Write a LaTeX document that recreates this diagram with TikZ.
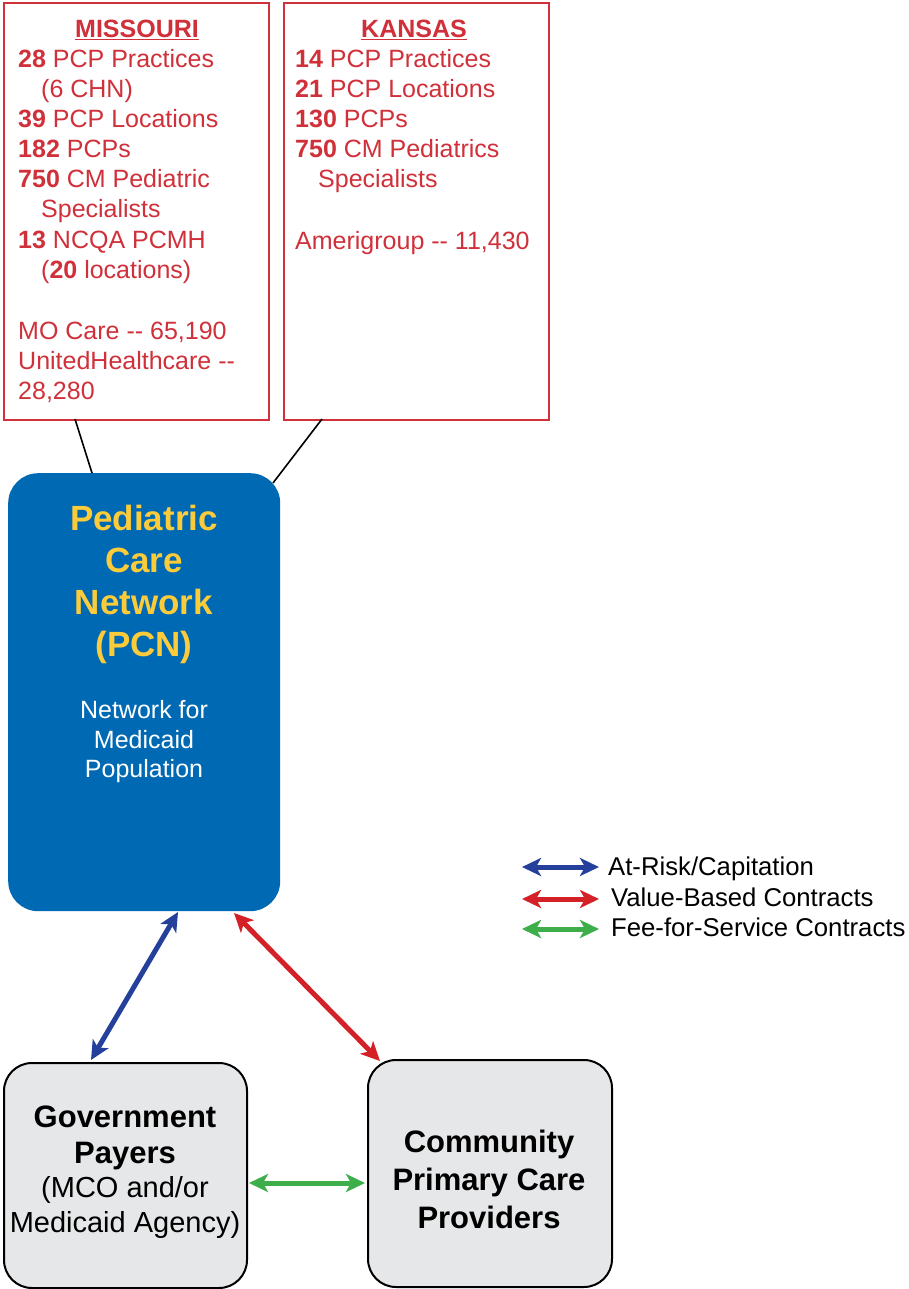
\documentclass[tikz,border=0pt]{standalone}
\usepackage{fontspec}
\setmainfont{Liberation Sans}
\usetikzlibrary{arrows.meta}
\definecolor{boxred}{HTML}{D0303A}
\definecolor{pcnblue}{HTML}{0069B4}
\definecolor{pcnyellow}{HTML}{FCCB3A}
\definecolor{arrblue}{HTML}{24409A}
\definecolor{arrred}{HTML}{D42128}
\definecolor{arrgreen}{HTML}{3DAE49}
\definecolor{boxgray}{HTML}{E6E7E8}
\tikzset{
  statebox/.style={draw=boxred, line width=2pt, anchor=north west, inner sep=0pt},
  rtxt/.style={text=boxred, inner sep=0pt, font=\fontsize{25}{30}\selectfont},
  ytxt/.style={text=pcnyellow, inner sep=0pt, anchor=base, font=\bfseries\fontsize{35}{42}\selectfont},
  wtxt/.style={text=white, inner sep=0pt, anchor=base, font=\fontsize{25}{30}\selectfont},
  btxt/.style={text=black, inner sep=0pt, anchor=base, font=\bfseries\fontsize{31}{37}\selectfont},
  ptxt/.style={text=black, inner sep=0pt, anchor=base, font=\fontsize{29}{34}\selectfont},
  ltxt/.style={text=black, inner sep=0pt, anchor=base west, font=\fontsize{25.7}{31}\selectfont},
  graybox/.style={draw=black, fill=boxgray, line width=2pt, rounded corners=28pt, anchor=north west, inner sep=0pt},
  conn/.style={line width=5pt, {Stealth[length=19pt,width=18pt,inset=5pt]}-{Stealth[length=19pt,width=18pt,inset=5pt]}},
  link/.style={draw=black, line width=1.6pt}
}
\begin{document}
\begin{tikzpicture}[x=1pt,y=-1pt]
\useasboundingbox (0,0) rectangle (909,1289);
\fill[white] (0,0) rectangle (909,1289);

% state boxes
\node[statebox, minimum width=265pt, minimum height=417pt] (mo) at (3,2) {};
\node[statebox, minimum width=265pt, minimum height=417pt] (ks) at (283,2) {};

% Missouri text
\node[rtxt, anchor=base] (mot) at (137,38) {\bfseries\underline{MISSOURI}};
\node[rtxt, anchor=base west] (m1) at (18,68) {\textbf{28} PCP Practices};
\node[rtxt, anchor=base west] (m2) at (41,98) {(6 CHN)};
\node[rtxt, anchor=base west] (m3) at (18,128) {\textbf{39} PCP Locations};
\node[rtxt, anchor=base west] (m4) at (18,158) {\textbf{182} PCPs};
\node[rtxt, anchor=base west] (m5) at (18,188) {\textbf{750} CM Pediatric};
\node[rtxt, anchor=base west] (m6) at (41,218) {Specialists};
\node[rtxt, anchor=base west] (m7) at (18,248) {\textbf{13} NCQA PCMH};
\node[rtxt, anchor=base west] (m8) at (41,278) {(\textbf{20} locations)};
\node[rtxt, anchor=base west] (m9) at (18,339) {MO Care -{}- 65,190};
\node[rtxt, anchor=base west] (m10) at (18,369) {UnitedHealthcare -{}-};
\node[rtxt, anchor=base west] (m11) at (18,399) {28,280};

% Kansas text
\node[rtxt, anchor=base] (kst) at (414,38) {\bfseries\underline{KANSAS}};
\node[rtxt, anchor=base west] (k1) at (295,68) {\textbf{14} PCP Practices};
\node[rtxt, anchor=base west] (k2) at (295,98) {\textbf{21} PCP Locations};
\node[rtxt, anchor=base west] (k3) at (295,128) {\textbf{130} PCPs};
\node[rtxt, anchor=base west] (k4) at (295,158) {\textbf{750} CM Pediatrics};
\node[rtxt, anchor=base west] (k5) at (318,188) {Specialists};
\node[rtxt, anchor=base west] (k6) at (295,249) {Amerigroup -{}- 11,430};

% PCN box
\node[fill=pcnblue, rounded corners=30pt, anchor=north west, minimum width=272pt, minimum height=438pt, inner sep=0pt] (pcn) at (8,473) {};
\node[ytxt] (p1) at (144,530) {Pediatric};
\node[ytxt] (p2) at (144,572) {Care};
\node[ytxt] (p3) at (144,614) {Network};
\node[ytxt] (p4) at (144,656) {(PCN)};
\node[wtxt] (p5) at (144,718) {Network for};
\node[wtxt] (p6) at (144,748) {Medicaid};
\node[wtxt] (p7) at (144,777) {Population};

% links from state boxes
\coordinate (moA) at (75,419);
\coordinate (moB) at (92,473);
\coordinate (ksA) at (322,419);
\coordinate (ksB) at (273,483);
\draw[link] (moA) -- (moB);
\draw[link] (ksA) -- (ksB);

% gray boxes
\node[graybox, minimum width=243pt, minimum height=225pt] (gov) at (3,1062) {};
\node[graybox, minimum width=244pt, minimum height=227pt] (cpc) at (367,1059) {};
\node[btxt] (g1) at (125,1127) {Government};
\node[btxt] (g2) at (125,1163) {Payers};
\node[ptxt] (g3) at (125,1197) {(MCO and/or};
\node[ptxt] (g4) at (125,1232) {Medicaid Agency)};
\node[btxt] (c1) at (489,1152) {Community};
\node[btxt] (c2) at (489,1190) {Primary Care};
\node[btxt] (c3) at (489,1228) {Providers};

% relationship arrows
\coordinate (bA) at (178,912);
\coordinate (bB) at (91,1060);
\coordinate (rA) at (234,913);
\coordinate (rB) at (380,1061);
\coordinate (gA) at (249,1183);
\coordinate (gB) at (365,1183);
\draw[conn, arrblue] (bA) -- (bB);
\draw[conn, arrred] (rA) -- (rB);
\draw[conn, arrgreen] (gA) -- (gB);

% legend
\coordinate (l1a) at (522,867);
\coordinate (l1b) at (599,867);
\coordinate (l2a) at (522,899);
\coordinate (l2b) at (599,899);
\coordinate (l3a) at (522,929);
\coordinate (l3b) at (599,929);
\draw[conn, arrblue] (l1a) -- (l1b);
\draw[conn, arrred] (l2a) -- (l2b);
\draw[conn, arrgreen] (l3a) -- (l3b);
\node[ltxt] (lt1) at (608,875) {At-Risk/Capitation};
\node[ltxt] (lt2) at (611,906) {Value-Based Contracts};
\node[ltxt] (lt3) at (611,936) {Fee-for-Service Contracts};
\end{tikzpicture}
\end{document}
